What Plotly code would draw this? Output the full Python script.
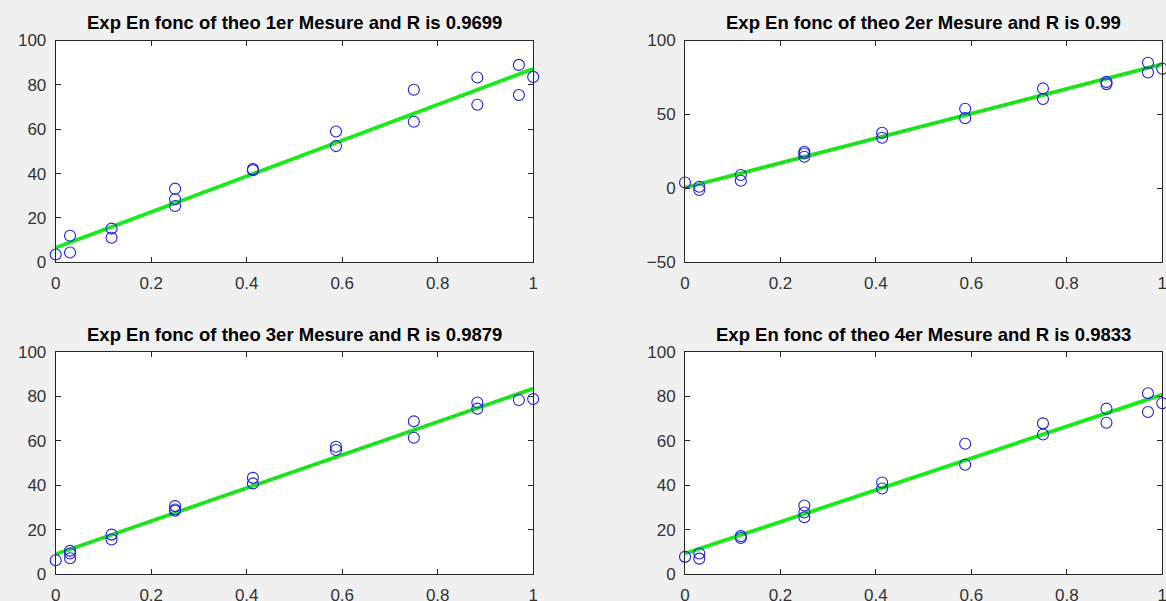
import plotly.graph_objects as go

# ---- data ----
x1 = [0, 0.030, 0.030, 0.117, 0.117, 0.25, 0.25, 0.25, 0.413, 0.413, 0.587, 0.587, 0.75, 0.75, 0.883, 0.883, 0.970, 0.970, 1.0]
y1 = [3.5, 12, 4.4, 15.2, 11.1, 33.2, 28.4, 25.4, 41.5, 42, 59, 52.4, 77.8, 63.4, 83.3, 71, 89, 75.4, 83.6]

x2 = [0, 0.030, 0.030, 0.117, 0.117, 0.25, 0.25, 0.25, 0.413, 0.413, 0.587, 0.587, 0.75, 0.75, 0.883, 0.883, 0.970, 0.970, 1.0]
y2 = [4, 1.1, -1.1, 9, 5.2, 24.8, 23.6, 21.4, 37.6, 34.2, 53.8, 47.5, 67.6, 60.4, 72, 70.5, 85, 78.4, 80.9]

x3 = [0, 0.030, 0.030, 0.030, 0.117, 0.117, 0.25, 0.25, 0.25, 0.413, 0.413, 0.587, 0.587, 0.75, 0.75, 0.883, 0.883, 0.970, 1.0]
y3 = [6.3, 10.5, 9.3, 7.2, 17.8, 15.6, 30.6, 29.1, 28.5, 43.3, 40.8, 57.3, 55.8, 68.7, 61.3, 77.2, 74.4, 78.3, 78.7]

x4 = [0, 0.030, 0.030, 0.117, 0.117, 0.25, 0.25, 0.25, 0.413, 0.413, 0.587, 0.587, 0.75, 0.75, 0.883, 0.883, 0.970, 0.970, 1.0]
y4 = [7.8, 9.3, 7, 17.1, 16.3, 30.9, 27.7, 25.6, 41.2, 38.5, 58.6, 49.2, 67.8, 62.8, 74.4, 68.1, 81.3, 72.9, 76.8]

fit_x = [0, 1]
fit1 = [6.6, 87.2]
fit2 = [0.5, 84.0]
fit3 = [9.0, 83.4]
fit4 = [9.3, 80.7]

titles = [
    "Exp En fonc of theo 1er Mesure and R is 0.9699",
    "Exp En fonc of theo 2er Mesure and R is 0.99",
    "Exp En fonc of theo 3er Mesure and R is 0.9879",
    "Exp En fonc of theo 4er Mesure and R is 0.9833",
]
y_ranges = [[0, 100], [-50, 100], [0, 100], [0, 100]]
y_ticks = [[0, 20, 40, 60, 80, 100], [-50, 0, 50, 100], [0, 20, 40, 60, 80, 100], [0, 20, 40, 60, 80, 100]]
x_ticks = [0, 0.2, 0.4, 0.6, 0.8, 1]

W, H = 1166, 601
# axes boxes in pixels (left, right, top, bottom)
boxes = [(55.7, 533.2, 40.5, 262.3), (685.0, 1162.3, 40.5, 262.3),
         (55.7, 533.2, 351.7, 574.2), (685.0, 1162.3, 351.7, 574.2)]

FONT = "Liberation Sans, Arial, Helvetica, sans-serif"
AX = "#262626"
GREEN = "#18ec18"
BLUE = "#2020e0"

fig = go.Figure()
data = [(x1, y1, fit1), (x2, y2, fit2), (x3, y3, fit3), (x4, y4, fit4)]
for i, (xs, ys, fy) in enumerate(data):
    xa = "x" if i == 0 else f"x{i+1}"
    ya = "y" if i == 0 else f"y{i+1}"
    fig.add_trace(go.Scatter(x=fit_x, y=fy, mode="lines", xaxis=xa, yaxis=ya,
                             line=dict(color=GREEN, width=3.8), showlegend=False,
                             hoverinfo="skip"))
    if i in (1, 2):
        fig.add_trace(go.Scatter(x=fit_x, y=fy, mode="lines", xaxis=xa, yaxis=ya,
                                 line=dict(color="#2ccf2c", width=2, dash="4px,3px"),
                                 showlegend=False, hoverinfo="skip"))
    fig.add_trace(go.Scatter(x=xs, y=ys, mode="markers", xaxis=xa, yaxis=ya,
                             cliponaxis=False,
                             marker=dict(symbol="circle-open", size=11,
                                         color=BLUE, line=dict(color=BLUE, width=1.1)),
                             showlegend=False))

layout = dict(
    width=W, height=H,
    margin=dict(l=0, r=0, t=0, b=0, autoexpand=False),
    paper_bgcolor="#f0f0f0", plot_bgcolor="white",
    font=dict(family=FONT, size=17, color="#333333"),
    annotations=[],
)
for i, (l, r, t, b) in enumerate(boxes):
    sx = "" if i == 0 else str(i + 1)
    common = dict(showgrid=False, zeroline=False, showline=True, linecolor=AX,
                  linewidth=1, mirror="ticks", ticks="inside", ticklen=5,
                  tickcolor=AX, tickwidth=1, automargin=False,
                  ticklabeloverflow="allow",
                  tickfont=dict(family=FONT, size=17, color="#333333"))
    layout["xaxis" + sx] = dict(domain=[l / W, r / W], range=[0, 1], tickvals=x_ticks,
                                anchor="y" + sx, ticklabelstandoff=5, **common)
    layout["yaxis" + sx] = dict(domain=[1 - b / H, 1 - t / H], range=y_ranges[i],
                                tickvals=y_ticks[i], anchor="x" + sx,
                                ticklabelstandoff=5, **common)
    layout["annotations"].append(dict(
        text="<b>" + titles[i] + "</b>", xref="paper", yref="paper",
        x=(l + r) / 2 / W, y=1 - t / H, xanchor="center", yanchor="bottom",
        yshift=5, showarrow=False,
        font=dict(family=FONT, size=18.5, color="black")))

fig.update_layout(**layout)
fig.write_html("out.html", config={"displayModeBar": False},
               post_script="document.body.style.margin='0';document.body.style.overflow='hidden';")
